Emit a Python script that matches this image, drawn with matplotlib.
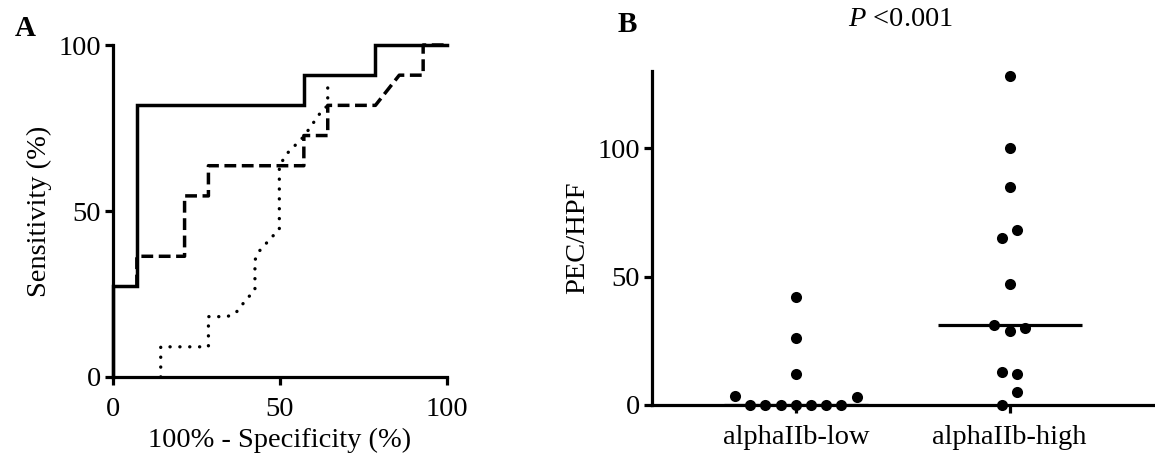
import numpy as np
import matplotlib
matplotlib.use("Agg")
import matplotlib.pyplot as plt

plt.rcParams['font.family'] = ['Liberation Serif', 'DejaVu Serif']
plt.rcParams['lines.scale_dashes'] = False
plt.rcParams['mathtext.fontset'] = 'custom'
plt.rcParams['mathtext.rm'] = 'Liberation Serif'
plt.rcParams['mathtext.it'] = 'Liberation Serif:italic'

# ---------------- Data ----------------
# Panel A: ROC curves (x = 100% - specificity, y = sensitivity)
roc_solid_x = [0, 0, 7.14, 7.14, 57.14, 57.14, 78.57, 78.57, 100]
roc_solid_y = [0, 27.27, 27.27, 81.82, 81.82, 90.91, 90.91, 100, 100]

roc_dashed_x = [7.14, 7.14, 21.43, 21.43, 28.57, 28.57, 57.14, 57.14, 64.29, 64.29,
                78.57, 85.71, 92.86, 92.86, 100]
roc_dashed_y = [27.27, 36.36, 36.36, 54.55, 54.55, 63.64, 63.64, 72.73, 72.73, 81.82,
                81.82, 90.91, 90.91, 100, 100]

roc_dotted_x = [14.29, 14.29, 28.57, 28.57, 34.1, 36.6, 40.1, 42.5, 42.5, 43.6, 47.6,
                49.8, 49.8, 52.1, 57.1, 62.1, 64.29, 64.29]
roc_dotted_y = [0, 9.09, 9.09, 18.18, 18.18, 19.1, 23.6, 26.1, 35.2, 37.7, 42.2,
                44.4, 63.6, 67.3, 72.4, 79.6, 81.82, 88.2]

roc_ticks = [0, 50, 100]

# Panel B: PEC/HPF per group
categories = ['alphaIIb-low', 'alphaIIb-high']
low_values = [3.5, 0, 0, 0, 0, 0, 0, 0, 3, 12, 26, 42]
high_values = [0, 5, 13, 12, 31, 29, 30, 47, 65, 68, 85, 100, 128]
pec_ticks = [0, 50, 100]

# ---------------- Figure ----------------
W, H = 1155, 466
fig = plt.figure(figsize=(W / 100, H / 100), dpi=100)

LW = 2.3
TICKFS = 20.5

def style_axes(ax):
    for s in ['top', 'right']:
        ax.spines[s].set_visible(False)
    for s in ['left', 'bottom']:
        ax.spines[s].set_linewidth(LW)
        ax.spines[s].set_capstyle('projecting')
    ax.tick_params(direction='out', width=LW, length=5.5, labelsize=TICKFS,
                   colors='black', pad=3)
    ax.tick_params(axis='x', pad=9)

# Panel A
axA = fig.add_axes([113 / W, 1 - 377 / H, 334 / W, 332 / H])
style_axes(axA)
axA.plot(roc_dashed_x, roc_dashed_y, color='black', lw=2.5,
         dashes=(8.5, 4.0), dash_capstyle='butt', zorder=2, clip_on=False)
axA.plot(roc_dotted_x, roc_dotted_y, color='black', lw=2.4,
         dashes=(0.1, 7.0), dash_capstyle='round', zorder=2, clip_on=False)
axA.plot(roc_solid_x, roc_solid_y, color='black', lw=2.5,
         solid_joinstyle='miter', zorder=3, clip_on=False)
axA.set_xlim(0, 100)
axA.set_ylim(0, 100)
axA.set_xticks(roc_ticks)
axA.set_yticks(roc_ticks)
axA.set_xlabel('100% - Specificity (%)', fontsize=TICKFS, labelpad=4)
axA.set_ylabel('Sensitivity (%)', fontsize=TICKFS, labelpad=5)

# Panel B
axB = fig.add_axes([652 / W, 1 - 405 / H, (W - 652) / W, (405 - 70.7) / H])
style_axes(axB)
xlim_b = (-0.673, 1.68)
ylim_b = (0, 130.2)
axB.set_xlim(*xlim_b)
axB.set_ylim(*ylim_b)

# swarm-style layout: group points that would overlap, centre each group
marker_d = 8.0  # points
fig_w_px = axB.get_position().width * W
fig_h_px = axB.get_position().height * H
spacing_px = 15.2
x_per_px = (xlim_b[1] - xlim_b[0]) / fig_w_px
y_per_px = (ylim_b[1] - ylim_b[0]) / fig_h_px
step_x = spacing_px * x_per_px
thr_y = spacing_px * y_per_px

def swarm_offsets(vals):
    vals = np.asarray(vals, dtype=float)
    order = np.argsort(vals, kind='stable')
    groups = []
    cur = [order[0]]
    for a, b in zip(order[:-1], order[1:]):
        if vals[b] - vals[a] < thr_y:
            cur.append(b)
        else:
            groups.append(cur)
            cur = [b]
    groups.append(cur)
    offs = np.zeros(len(vals))
    for g in groups:
        g = sorted(g)  # keep data order within a group
        n = len(g)
        for i, idx in enumerate(g):
            offs[idx] = (i - (n - 1) / 2) * step_x
    return offs

for i, vals in enumerate([low_values, high_values]):
    offs = swarm_offsets(vals)
    axB.plot(i + offs, vals, 'o', color='black', markersize=marker_d,
             markeredgewidth=0, zorder=4, clip_on=False)
    med = np.median(vals)
    axB.hlines(med, i - 0.337, i + 0.337, color='black', lw=LW, zorder=3)

axB.set_xticks(range(len(categories)))
axB.set_xticklabels(categories)
axB.set_yticks(pec_ticks)
axB.set_ylabel('PEC/HPF', fontsize=TICKFS, labelpad=5)

# Panel letters and p value
fig.text(25 / W, 1 - 28 / H, 'A', fontsize=21, fontweight='bold',
         ha='center', va='center')
fig.text(627 / W, 1 - 24 / H, 'B', fontsize=21, fontweight='bold',
         ha='center', va='center')
fig.text(901 / W, 1 - 19 / H, r'$P$ <0.001', fontsize=TICKFS,
         ha='center', va='center')

fig.savefig('out.png', dpi=100)
